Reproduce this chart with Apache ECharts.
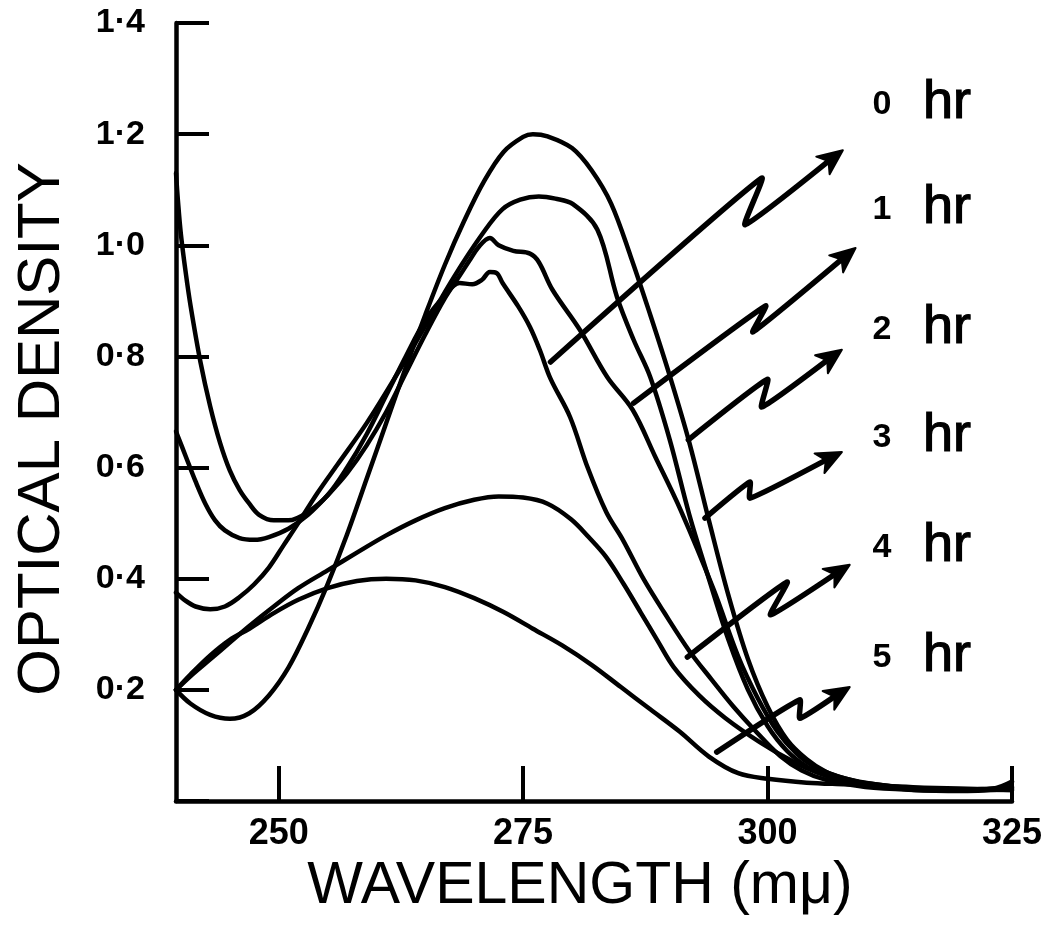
<!DOCTYPE html>
<html>
<head>
<meta charset="utf-8">
<script src="https://cdn.jsdelivr.net/npm/echarts@6/dist/echarts.min.js"></script>
<style>
  html, body { margin: 0; padding: 0; background: #fff; }
  #chart { width: 1055px; height: 938px; }
</style>
</head>
<body>
<div id="chart"></div>
<script>
// Absorption spectra (optical density vs wavelength, mμ) after 0–5 hr
const wavelengthTicks = [250, 275, 300, 325];
const hourLabels = ['0', '1', '2', '3', '4', '5'];

const spectrum0hr = [
  [239.5, 1.13], [239.7, 1.08], [240, 1.02], [240.5, 0.95], [241, 0.89], [242, 0.79], [243, 0.71],
  [244, 0.645], [245, 0.595], [246, 0.56], [247, 0.535], [248, 0.515], [249.5, 0.505], [251, 0.505],
  [253, 0.52], [255, 0.55], [257, 0.60], [259, 0.66], [261, 0.73], [263, 0.80], [265, 0.865],
  [267, 0.91], [268.5, 0.932], [269.8, 0.93], [270.8, 0.938], [271.6, 0.952], [272.3, 0.95], [272.9, 0.932],
  [274.5, 0.89], [275.7, 0.853], [276.7, 0.812], [277.8, 0.76], [279.8, 0.691], [281.6, 0.60],
  [283.5, 0.52], [285.2, 0.47], [287.3, 0.40], [289.4, 0.34], [292, 0.27], [294.3, 0.218],
  [296.5, 0.17], [298.5, 0.131], [301.3, 0.081], [303.5, 0.055], [306, 0.038], [310, 0.025],
  [315, 0.02], [320, 0.019], [325, 0.025]
];
const spectrum1hr = [
  [239.5, 0.665], [240.5, 0.62], [241.5, 0.575], [242.5, 0.535], [243.5, 0.505], [244.5, 0.487],
  [246, 0.473], [247.5, 0.47], [249, 0.475], [251, 0.49], [253, 0.515], [255, 0.55], [257, 0.59],
  [259, 0.64], [261, 0.70], [263, 0.77], [265, 0.84], [267, 0.905], [268.5, 0.945], [269.5, 0.972],
  [270.5, 0.998], [271.6, 1.013], [272.5, 1.0], [274, 0.99], [275.7, 0.985], [276.6, 0.97],
  [278, 0.92], [280.8, 0.848], [283.6, 0.763], [286.2, 0.704], [288.5, 0.62], [291.1, 0.524],
  [294.5, 0.38], [297, 0.26], [299, 0.185], [301, 0.125], [303, 0.085], [305, 0.06], [308, 0.04],
  [311, 0.028], [315, 0.02], [320, 0.018], [325, 0.022]
];
const spectrum2hr = [
  [239.5, 0.20], [241, 0.175], [243, 0.155], [245, 0.148], [247, 0.158], [249, 0.19], [251, 0.24],
  [253, 0.31], [255, 0.39], [257, 0.48], [259, 0.58], [261, 0.68], [263, 0.78], [265, 0.875],
  [267, 0.965], [269, 1.045], [271, 1.115], [273, 1.168], [275, 1.195], [276, 1.20], [277.5, 1.196],
  [280, 1.175], [282, 1.135], [284, 1.075], [286, 0.98], [288, 0.875], [290, 0.765], [292, 0.645],
  [294, 0.505], [296, 0.37], [298, 0.255], [300, 0.17], [302, 0.11], [304, 0.075], [306, 0.052],
  [308, 0.04], [311, 0.03], [315, 0.022], [320, 0.02], [323, 0.022], [325, 0.035]
];
const spectrum3hr = [
  [239.5, 0.375], [240.5, 0.36], [241.5, 0.35], [243, 0.345], [244.5, 0.35], [246, 0.367],
  [247.5, 0.39], [249, 0.42], [250.5, 0.46], [252, 0.50], [254, 0.555], [256, 0.605], [259, 0.68],
  [262, 0.765], [265, 0.855], [268, 0.945], [270.9, 1.022], [272.9, 1.065], [274.7, 1.082], [276.6, 1.088],
  [278.3, 1.084], [280.1, 1.074], [282.6, 1.028], [284.6, 0.907], [286.3, 0.83], [288, 0.763], [290, 0.65],
  [292, 0.515], [294, 0.40], [296, 0.29], [298, 0.20], [300, 0.135], [302, 0.09], [304, 0.062],
  [306, 0.045], [309, 0.032], [313, 0.024], [318, 0.02], [325, 0.024]
];
const spectrum4hr = [
  [239.5, 0.20], [241, 0.225], [243, 0.255], [245, 0.285], [247, 0.315], [249.5, 0.35],
  [252, 0.383], [255, 0.415], [258, 0.447], [261, 0.478], [264, 0.505], [267, 0.527], [270, 0.542],
  [272.5, 0.548], [275, 0.546], [277.5, 0.535], [279.9, 0.507], [281.7, 0.475], [283.5, 0.439],
  [285.3, 0.39], [287, 0.34], [288.7, 0.29], [290.4, 0.241], [293, 0.19], [295.7, 0.149],
  [299.2, 0.106], [302.7, 0.07], [305, 0.052], [308, 0.038], [312, 0.028], [316, 0.022], [325, 0.02]
];
const spectrum5hr = [
  [239.5, 0.20], [241, 0.228], [243, 0.262], [245, 0.29], [247, 0.31], [249.5, 0.338], [252, 0.362],
  [255, 0.383], [258, 0.396], [261, 0.40], [264, 0.397], [267, 0.385], [270, 0.365], [273, 0.34],
  [276, 0.31], [279, 0.28], [282, 0.245], [285, 0.205], [288, 0.165], [291, 0.125], [294, 0.08],
  [297, 0.05], [300, 0.04], [304, 0.033], [308, 0.03], [312, 0.027], [316, 0.024], [325, 0.02]
];
const spectra = [spectrum0hr, spectrum1hr, spectrum2hr, spectrum3hr, spectrum4hr, spectrum5hr];

// Lightning-bolt pointer arrows (tail on a curve → kink → kink → tip), in data units
const arrowTail     = [[277.8, 0.790], [286.3, 0.716], [291.9, 0.650], [293.6, 0.509], [291.8, 0.259], [294.8, 0.088]];
const arrowKinkHigh = [[299.4, 1.121], [299.8, 0.891], [300.0, 0.759], [298.2, 0.574], [302.0, 0.394], [303.3, 0.182]];
const arrowKinkLow  = [[297.7, 1.037], [298.5, 0.844], [299.4, 0.709], [298.2, 0.545], [300.3, 0.335], [303.3, 0.149]];
const arrowTip      = [[307.7, 1.171], [309.0, 0.995], [307.6, 0.812], [307.6, 0.628], [308.4, 0.425], [308.4, 0.205]];
// Label anchors (baseline) for "n hr"
const labelDigitX = 311.7;
const labelUnitX = 315.9;
const labelBaseline = [1.222, 1.033, 0.817, 0.623, 0.425, 0.227];

const FONT = '"Liberation Sans", Arial, sans-serif';

const lineSeries = spectra.map((data, i) => ({
  type: 'line',
  name: hourLabels[i] + ' hr',
  data: data,
  showSymbol: false,
  symbol: 'none',
  smooth: 0.35,
  lineStyle: { color: '#000', width: 4.5, cap: 'round', join: 'round' },
  z: 3,
  silent: true
}));

function renderPointer(params, api) {
  const i = api.value(2);
  const pts = [arrowTail[i], arrowKinkHigh[i], arrowKinkLow[i], arrowTip[i]].map(p => api.coord(p));
  const tip = pts[3];
  const from = pts[2];
  const dx = tip[0] - from[0], dy = tip[1] - from[1];
  const len = Math.sqrt(dx * dx + dy * dy);
  const ux = dx / len, uy = dy / len;
  const px = -uy, py = ux;
  const headLen = 25, headHalf = 11, notch = 7;
  const base = [tip[0] - ux * headLen, tip[1] - uy * headLen];
  const inner = [tip[0] - ux * (headLen - notch), tip[1] - uy * (headLen - notch)];
  const shaft = pts.slice(0, 3).concat([inner]);
  const digitPos = api.coord([labelDigitX, labelBaseline[i]]);
  const unitPos = api.coord([labelUnitX, labelBaseline[i]]);
  return {
    type: 'group',
    children: [
      {
        type: 'polyline',
        shape: { points: shaft, smooth: 0.15 },
        style: { stroke: '#000', lineWidth: 5.5, fill: null, lineJoin: 'round', lineCap: 'round' }
      },
      {
        type: 'polygon',
        shape: {
          points: [
            tip,
            [base[0] + px * headHalf, base[1] + py * headHalf],
            inner,
            [base[0] - px * headHalf, base[1] - py * headHalf]
          ]
        },
        style: { fill: '#000', stroke: '#000', lineWidth: 2, lineJoin: 'round' }
      },
      {
        type: 'text',
        x: digitPos[0], y: digitPos[1],
        style: {
          text: hourLabels[i], fill: '#000', fontSize: 34, fontWeight: 'bold',
          fontFamily: FONT, align: 'center', verticalAlign: 'bottom'
        }
      },
      {
        type: 'text',
        x: unitPos[0], y: unitPos[1] + 8,
        style: {
          text: 'hr', fill: '#000', fontSize: 54, fontWeight: 'normal',
          fontFamily: FONT, align: 'left', verticalAlign: 'bottom',
          stroke: '#000', lineWidth: 1.2
        }
      }
    ]
  };
}

const chart = echarts.init(document.getElementById('chart'), null, { renderer: 'canvas' });
chart.setOption({
  backgroundColor: '#fff',
  animation: false,
  grid: { left: 176, right: 43, top: 23, bottom: 137, containLabel: false },
  xAxis: {
    type: 'value',
    min: 239.5,
    max: 325,
    name: 'WAVELENGTH (mμ)',
    nameLocation: 'middle',
    nameGap: 50,
    nameTextStyle: { fontSize: 59, color: '#000', fontFamily: FONT, padding: [0, 28, 0, 0] },
    axisLine: { show: true, onZero: false, lineStyle: { color: '#000', width: 4.5 } },
    axisTick: {
      show: true, inside: true, length: 35, customValues: wavelengthTicks,
      lineStyle: { color: '#000', width: 4 }
    },
    axisLabel: {
      customValues: wavelengthTicks, color: '#000', fontSize: 36, fontWeight: 'bold',
      fontFamily: FONT, margin: 15
    },
    splitLine: { show: false }
  },
  yAxis: {
    type: 'value',
    min: 0,
    max: 1.4,
    interval: 0.2,
    name: 'OPTICAL DENSITY',
    nameLocation: 'middle',
    nameRotate: 90,
    nameGap: 104,
    nameTextStyle: { fontSize: 60, color: '#000', fontFamily: FONT, padding: [0, 34, 0, 0] },
    axisLine: { show: true, lineStyle: { color: '#000', width: 4.5 } },
    axisTick: { show: true, inside: true, length: 33, lineStyle: { color: '#000', width: 4 } },
    axisLabel: {
      color: '#000', fontSize: 34, fontWeight: 'bold', fontFamily: FONT, margin: 31,
      formatter: v => (v === 0 ? '' : v.toFixed(1).replace('.', '·'))
    },
    splitLine: { show: false }
  },
  series: lineSeries.concat([{
    type: 'custom',
    name: 'pointers',
    renderItem: renderPointer,
    data: arrowTail.map((p, i) => [p[0], p[1], i]),
    encode: { x: 0, y: 1 },
    z: 5,
    silent: true
  }])
});
</script>
</body>
</html>
